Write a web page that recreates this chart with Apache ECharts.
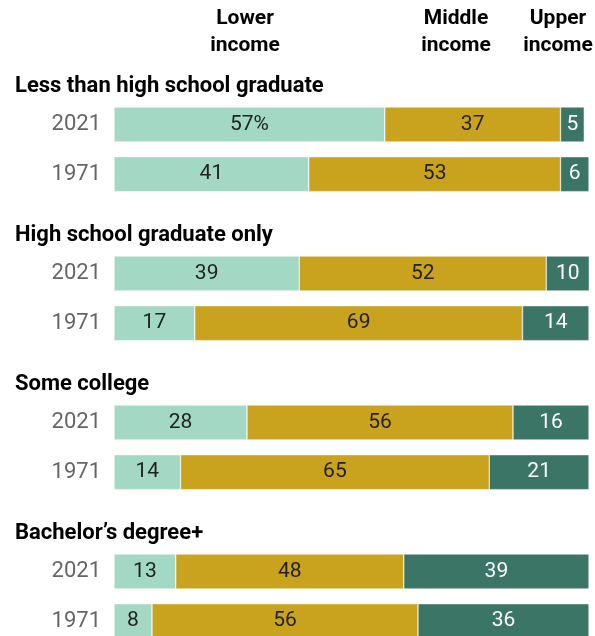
<!DOCTYPE html>
<html>
<head>
<meta charset="utf-8">
<script src="https://cdn.jsdelivr.net/npm/echarts@6/dist/echarts.min.js"></script>
<style>
html, body { margin: 0; padding: 0; background: #fff; }
#main { width: 595px; height: 636px; }
</style>
</head>
<body>
<div id="main"></div>
<script>
// rows top to bottom; group headings sit in their own empty row
var rowLabels = ['Less than high school graduate', '2021', '1971',
                 'High school graduate only', '2021', '1971',
                 'Some college', '2021', '1971',
                 'Bachelor\u2019s degree+', '2021', '1971'];
var isHeading = [true, false, false, true, false, false, true, false, false, true, false, false];

var lowerIncome  = ['-', 57, 41, '-', 39, 17, '-', 28, 14, '-', 13, 8];
var middleIncome = ['-', 37, 53, '-', 52, 69, '-', 56, 65, '-', 48, 56];
var upperIncome  = ['-', 5, 6, '-', 10, 14, '-', 16, 21, '-', 39, 36];

var colHeads = ['Lower\nincome', 'Middle\nincome', 'Upper\nincome'];

var rowKeys = rowLabels.map(function (l, i) { return 'r' + i; });

var chart = echarts.init(document.getElementById('main'));

function seg(name, data, color, txtColor, pctRow) {
    return {
        name: name,
        type: 'bar',
        stack: 'all',
        data: data,
        barWidth: 35,
        itemStyle: { color: color, borderColor: '#ffffff', borderWidth: 0.5 },
        label: {
            show: true,
            position: 'inside',
            color: txtColor,
            fontFamily: 'Roboto',
            fontSize: 21,
            formatter: function (p) {
                return p.dataIndex === pctRow ? p.value + '%' : p.value;
            }
        }
    };
}

var headFont = 'bold 21px Roboto';

var option = {
    backgroundColor: '#ffffff',
    animation: false,
    grid: { left: 114, width: 475, top: 50, height: 596, outerBoundsMode: 'none', containLabel: false },
    xAxis: { type: 'value', min: 0, max: 100, show: false },
    yAxis: [
        {
            type: 'category',
            data: rowKeys,
            inverse: true,
            position: 'left',
            axisLine: { show: false },
            axisTick: { show: false },
            axisLabel: {
                margin: 13,
                color: '#666666',
                fontFamily: 'Roboto',
                fontSize: 22,
                formatter: function (v, i) { return isHeading[i] ? '' : rowLabels[i]; }
            }
        },
        {
            type: 'category',
            data: rowKeys,
            inverse: true,
            position: 'left',
            axisLine: { show: false },
            axisTick: { show: false },
            axisLabel: {
                margin: 99,
                align: 'left',
                formatter: function (v, i) { return isHeading[i] ? '{h|' + rowLabels[i] + '}' : ''; },
                rich: {
                    h: {
                        color: '#000000',
                        fontFamily: 'Roboto',
                        fontWeight: 'bold',
                        fontSize: 22,
                        padding: [24, 0, 0, 0]
                    }
                }
            }
        }
    ],
    graphic: [
        { type: 'text', x: 245, y: 5, style: { text: colHeads[0], textAlign: 'center', fill: '#000', font: headFont, lineHeight: 27 } },
        { type: 'text', x: 456, y: 5, style: { text: colHeads[1], textAlign: 'center', fill: '#000', font: headFont, lineHeight: 27 } },
        { type: 'text', x: 558, y: 5, style: { text: colHeads[2], textAlign: 'center', fill: '#000', font: headFont, lineHeight: 27 } }
    ],
    series: [
        seg('Lower income', lowerIncome, '#a3d9c4', '#222222', 1),
        seg('Middle income', middleIncome, '#c9a21e', '#222222', -1),
        seg('Upper income', upperIncome, '#3b7565', '#ffffff', -1)
    ]
};

chart.setOption(option);
</script>
</body>
</html>
